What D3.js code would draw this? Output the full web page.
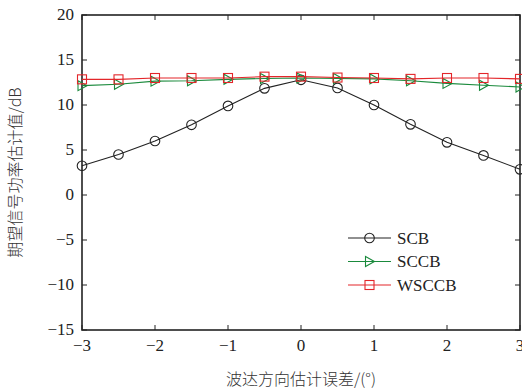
<!DOCTYPE html>
<html>
<head>
<meta charset="utf-8">
<script src="https://cdn.jsdelivr.net/npm/d3@7"></script>
<style>
body{margin:0;background:#fff}
</style>
</head>
<body>
<svg id="chart" width="522" height="392"></svg>
<script>
var xs = [-3,-2.5,-2,-1.5,-1,-0.5,0,0.5,1,1.5,2,2.5,3];
var scb = [3.25,4.5,6.0,7.8,9.9,11.85,12.8,11.9,10.0,7.85,5.85,4.4,2.85];
var sccb = [12.15,12.3,12.65,12.7,12.85,12.95,13.0,12.95,12.9,12.7,12.4,12.2,12.0];
var wsccb = [12.85,12.85,13.0,13.0,13.0,13.15,13.15,13.05,13.0,12.9,13.0,13.0,12.9];
var xticks = [-3,-2,-1,0,1,2,3];
var yticks = [-15,-10,-5,0,5,10,15,20];

var serif = "'Liberation Serif','DejaVu Serif',serif";
var cjk = "'Noto Sans CJK SC',sans-serif";

var svg = d3.select("#chart");
var L = 82, R = 520, T = 15, B = 330;
var x = d3.scaleLinear().domain([-3,3]).range([L,R]);
var y = d3.scaleLinear().domain([-15,20]).range([B,T]);

function fmt(v){ return v < 0 ? "\u2212" + Math.abs(v) : "" + v; }

// ticks inward, all four sides
var tk = 5;
var g = svg.append("g").attr("stroke","#222").attr("stroke-width",1);
xticks.forEach(function(v){
	g.append("line").attr("x1",x(v)).attr("x2",x(v)).attr("y1",B).attr("y2",B-tk);
	g.append("line").attr("x1",x(v)).attr("x2",x(v)).attr("y1",T).attr("y2",T+tk);
});
yticks.forEach(function(v){
	g.append("line").attr("x1",L).attr("x2",L+tk).attr("y1",y(v)).attr("y2",y(v));
	g.append("line").attr("x1",R).attr("x2",R-tk).attr("y1",y(v)).attr("y2",y(v));
});

svg.append("rect").attr("x",L).attr("y",T).attr("width",R-L).attr("height",B-T)
	.attr("fill","none").attr("stroke","#222").attr("stroke-width",1.6);

svg.selectAll(".xl").data(xticks).enter().append("text")
	.attr("x",function(d){return x(d);}).attr("y",B+21)
	.attr("text-anchor","middle").attr("font-size",17).attr("fill","#222")
	.style("font-family",serif)
	.text(fmt);
svg.selectAll(".yl").data(yticks).enter().append("text")
	.attr("x",L-8).attr("y",function(d){return y(d)+5;})
	.attr("text-anchor","end").attr("font-size",17).attr("fill","#222")
	.style("font-family",serif)
	.text(fmt);

svg.append("text").attr("x",(L+R)/2).attr("y",385).attr("text-anchor","middle")
	.attr("font-size",16).attr("fill","#333").attr("font-weight",300)
	.style("font-family",cjk)
	.text("波达方向估计误差/(°)");
svg.append("text").attr("transform","translate(21,"+((T+B)/2)+") rotate(-90)")
	.attr("text-anchor","middle").attr("font-size",16).attr("fill","#333").attr("font-weight",300)
	.style("font-family",cjk)
	.text("期望信号功率估计值/dB");

var series = [
	{name:"SCB", vals:scb, color:"#222222", marker:"circle"},
	{name:"SCCB", vals:sccb, color:"#1a8a3c", marker:"tri"},
	{name:"WSCCB", vals:wsccb, color:"#e3262a", marker:"square"}
];

function marker(sel, type, color){
	if(type=="circle"){
		sel.append("circle").attr("r",4.8).attr("fill","none").attr("stroke",color).attr("stroke-width",1.1);
	} else if(type=="tri"){
		sel.append("path").attr("d","M-4,-5L5,0L-4,5Z").attr("fill","none").attr("stroke",color).attr("stroke-width",1.1);
	} else {
		sel.append("rect").attr("x",-4.5).attr("y",-4.5).attr("width",9).attr("height",9)
			.attr("fill","none").attr("stroke",color).attr("stroke-width",1.1);
	}
}

var line = d3.line().x(function(d,i){return x(xs[i]);}).y(function(d){return y(d);});
series.forEach(function(s){
	svg.append("path").attr("d",line(s.vals)).attr("fill","none")
		.attr("stroke",s.color).attr("stroke-width",1.1);
	s.vals.forEach(function(v,i){
		var m = svg.append("g").attr("transform","translate("+x(xs[i])+","+y(v)+")");
		marker(m, s.marker, s.color);
	});
});

// legend
var lx = 348, ly = 238, dy = 23.5;
series.forEach(function(s,i){
	var yy = ly + i*dy;
	svg.append("line").attr("x1",lx).attr("x2",lx+43).attr("y1",yy).attr("y2",yy)
		.attr("stroke",s.color).attr("stroke-width",1.1);
	var m = svg.append("g").attr("transform","translate("+(lx+21.5)+","+yy+")");
	marker(m, s.marker, s.color);
	svg.append("text").attr("x",lx+49).attr("y",yy+5.5).attr("font-size",17).attr("fill","#222")
		.style("font-family",serif).text(s.name);
});
</script>
</body>
</html>
